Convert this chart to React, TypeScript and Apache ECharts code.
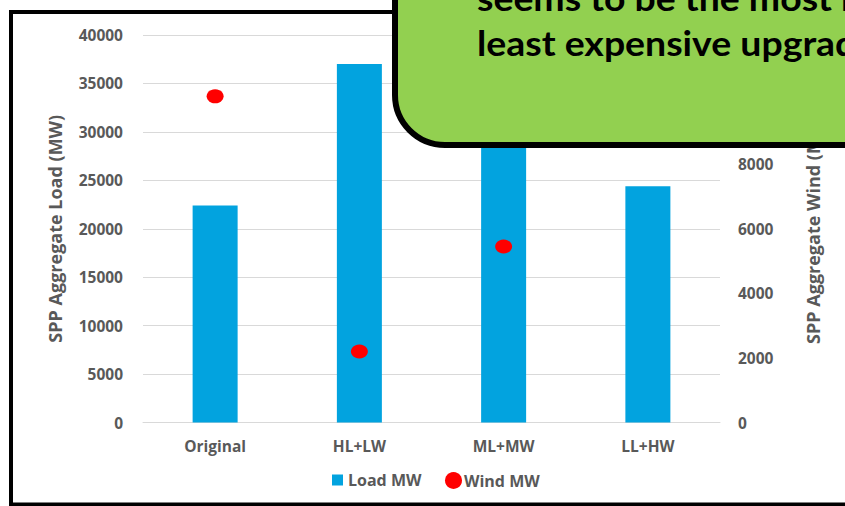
import React, { useEffect, useRef } from "react";
import * as echarts from "echarts";

// Scenario names along the category axis
const scenarios = ["Original", "HL+LW", "ML+MW", "LL+HW"];
// Aggregate load per scenario (MW), left axis
const loadMW = [22400, 37000, 30500, 24400];
// Aggregate wind per scenario (MW), right axis
const windMW = [10100, 2200, 5450, 10800];

// Callout text lines
const calloutLines = ["seems to be the most reliable and", "least expensive upgrade."];

const FONT = "'Open Sans', 'DejaVu Sans', sans-serif";
const GREY = "#595959";

export default function App() {
  const ref = useRef<HTMLDivElement>(null);

  useEffect(() => {
    document.body.style.margin = "0";
    if (!ref.current) return;
    const chart = echarts.init(ref.current, undefined, { renderer: "svg" });

    const axisLabel = { color: GREY, fontFamily: FONT, fontWeight: 700, fontSize: 15.5 };
    const axisName = { color: GREY, fontFamily: FONT, fontWeight: 700, fontSize: 18 };
    const legendText = { color: GREY, fontFamily: FONT, fontWeight: 700, fontSize: 16 };

    chart.setOption({
      animation: false,
      backgroundColor: "#ffffff",
      textStyle: { fontFamily: FONT },
      grid: { left: 143, right: 125, top: 35, bottom: 83.5, containLabel: false },
      legend: [
        {
          data: [{ name: "Load MW", icon: "rect" }],
          left: 327,
          top: 467,
          itemWidth: 11,
          itemHeight: 11,
          textStyle: legendText,
        },
        {
          data: [{ name: "Wind MW", icon: "circle" }],
          left: 440,
          top: 467,
          itemWidth: 17,
          itemHeight: 17,
          textStyle: { ...legendText, padding: [0, 0, 0, -3] },
        },
      ],
      xAxis: {
        type: "category",
        data: scenarios,
        axisLine: { show: true, lineStyle: { color: "#D9D9D9", width: 1 } },
        axisTick: { show: false },
        axisLabel: { ...axisLabel, margin: 15 },
      },
      yAxis: [
        {
          type: "value",
          min: 0,
          max: 40000,
          interval: 5000,
          name: "SPP Aggregate Load (MW)",
          nameLocation: "middle",
          nameRotate: 90,
          nameGap: 79,
          nameTextStyle: axisName,
          axisLine: { show: false },
          axisTick: { show: false },
          axisLabel: { ...axisLabel, margin: 20, formatter: (v: number) => String(v) },
          splitLine: { lineStyle: { color: "#D9D9D9", width: 1 } },
        },
        {
          type: "value",
          min: 0,
          max: 12000,
          interval: 2000,
          name: "SPP Aggregate Wind (MW)",
          nameLocation: "middle",
          nameRotate: 90,
          nameGap: 84,
          nameTextStyle: axisName,
          axisLine: { show: false },
          axisTick: { show: false },
          // upper ticks sit under the callout box
          axisLabel: { ...axisLabel, margin: 18, formatter: (v: number) => (v > 8000 ? "" : String(v)) },
          splitLine: { show: false },
        },
      ],
      series: [
        {
          name: "Load MW",
          type: "bar",
          data: loadMW,
          barWidth: 45,
          itemStyle: { color: "#02A3DF" },
          z: 2,
        },
        {
          name: "Wind MW",
          type: "scatter",
          yAxisIndex: 1,
          data: windMW,
          symbol: "circle",
          symbolSize: [17, 14],
          itemStyle: { color: "#FF0000", opacity: 1 },
          z: 3,
        },
      ],
      graphic: [
        // frame around the chart
        {
          type: "rect",
          z: 100,
          silent: true,
          shape: { x: 11, y: 12, width: 900, height: 492.5 },
          style: { fill: "none", stroke: "#000000", lineWidth: 4 },
        },
        // green callout box
        {
          type: "rect",
          z: 110,
          silent: true,
          shape: { x: 395, y: -100, width: 600, height: 245, r: 50 },
          style: { fill: "#92D050", stroke: "#000000", lineWidth: 6 },
        },
        ...calloutLines.map((line, i) => ({
          type: "text",
          z: 120,
          silent: true,
          x: 477,
          y: 43 - 45 * (calloutLines.length - 1 - i),
          scaleX: 1.1,
          style: {
            text: line,
            fill: "#000000",
            font: "bold 34px Lato, 'Liberation Sans', sans-serif",
            verticalAlign: "middle",
            align: "left",
          },
        })),
      ],
    });

    return () => chart.dispose();
  }, []);

  return <div ref={ref} style={{ width: 845, height: 506 }} />;
}
